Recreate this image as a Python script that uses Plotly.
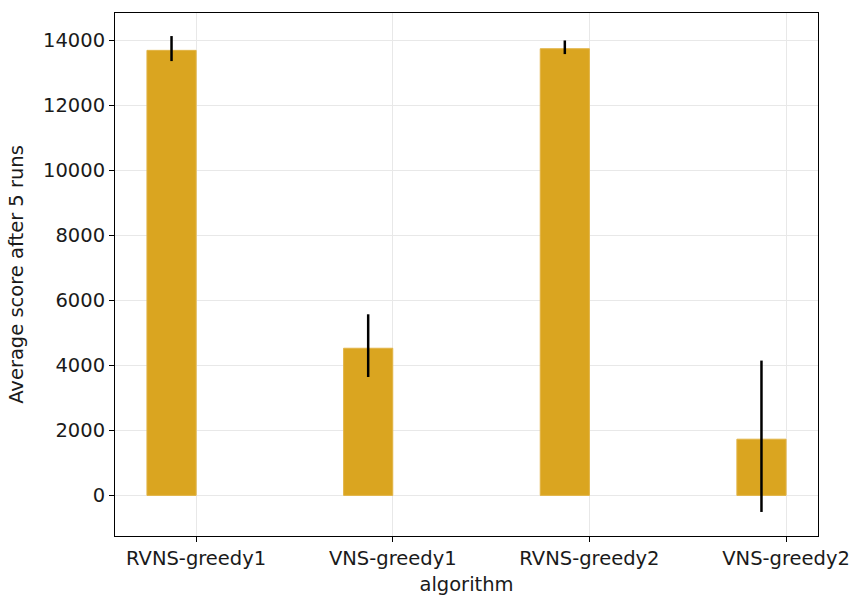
import plotly.graph_objects as go

# Average score per algorithm (5 runs) with asymmetric error extents
algorithms = ["RVNS-greedy1", "VNS-greedy1", "RVNS-greedy2", "VNS-greedy2"]
mean_score = [13700, 4530, 13750, 1730]
err_plus = [440, 1045, 255, 2420]
err_minus = [330, 885, 165, 2240]
y_ticks = [0, 2000, 4000, 6000, 8000, 10000, 12000, 14000]

positions = list(range(len(algorithms)))
bar_width = 0.25
bar_x = [p - bar_width / 2 for p in positions]

font_family = "DejaVu Sans"
fs = 19.5

fig = go.Figure(
    go.Bar(
        x=bar_x,
        y=mean_score,
        width=bar_width,
        marker=dict(color="#DAA520", line=dict(color="#E2B446", width=1)),
        error_y=dict(
            type="data",
            symmetric=False,
            array=err_plus,
            arrayminus=err_minus,
            color="black",
            thickness=2.5,
            width=0,
        ),
        showlegend=False,
    )
)

axis_common = dict(
    showline=True,
    linecolor="black",
    linewidth=1.1,
    mirror=True,
    ticks="outside",
    ticklen=5,
    tickwidth=1,
    tickcolor="black",
    showgrid=True,
    gridcolor="#e8e8e8",
    gridwidth=1,
    zeroline=False,
    automargin=False,
    tickfont=dict(family=font_family, size=fs, color="#1a1a1a"),
    title_font=dict(family=font_family, size=fs, color="#1a1a1a"),
)

fig.update_layout(
    width=851,
    height=596,
    margin=dict(l=115, r=33, t=13, b=60),
    paper_bgcolor="white",
    plot_bgcolor="white",
    font=dict(family=font_family, size=fs, color="#1a1a1a"),
    xaxis=dict(
        axis_common,
        range=[-0.4125, 3.1625],
        tickmode="array",
        tickvals=positions,
        ticktext=algorithms,
        title=dict(text="algorithm", standoff=9),
    ),
    yaxis=dict(
        axis_common,
        range=[-1250, 14850],
        tickmode="array",
        tickvals=y_ticks,
        ticktext=[str(v) for v in y_ticks],
        title=dict(text="Average score after 5 runs", standoff=14),
    ),
)

fig.write_html("out.html")
